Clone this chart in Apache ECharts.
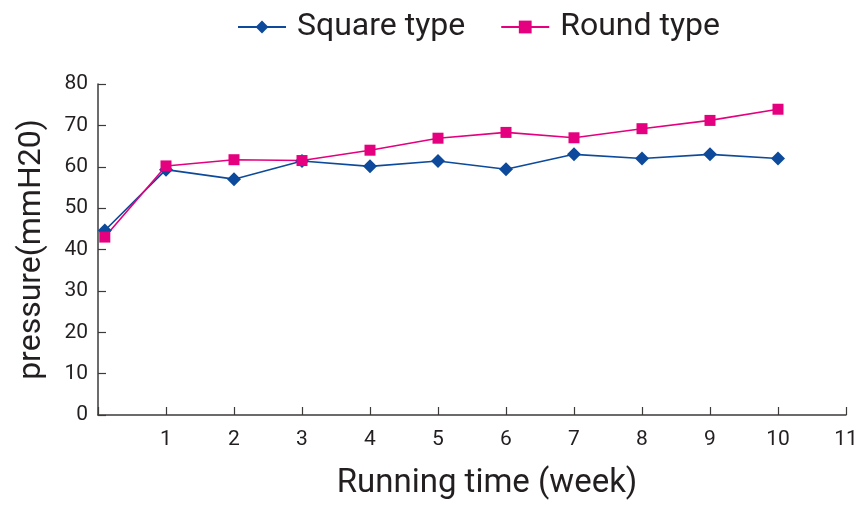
<!DOCTYPE html>
<html>
<head>
<meta charset="utf-8">
<script src="https://cdn.jsdelivr.net/npm/echarts@6/dist/echarts.min.js"></script>
<style>
  html, body { margin: 0; padding: 0; background: #fff; }
  #myChart { width: 865px; height: 505px; }
</style>
</head>
<body>
<div id="myChart"></div>
<script>
// weeks (first reading taken just after start)
var weeks = [0.1, 1, 2, 3, 4, 5, 6, 7, 8, 9, 10];
var squareType = [44.6, 59.3, 57.0, 61.4, 60.1, 61.4, 59.4, 63.0, 62.0, 63.0, 62.0];
var roundType = [43.0, 60.2, 61.7, 61.5, 64.0, 66.9, 68.3, 67.0, 69.2, 71.2, 73.9];
var yTicks = [0, 10, 20, 30, 40, 50, 60, 70, 80];

function pairs(xs, ys) {
  var out = [];
  for (var i = 0; i < xs.length; i++) {
    out.push([xs[i], ys[i]]);
  }
  return out;
}

var textColor = '#231f20';
var axisColor = '#3d3a3a';
var font = 'Roboto, "Noto Sans", sans-serif';

var chart = echarts.init(document.getElementById('myChart'));
var option = {
  animation: false,
  textStyle: { fontFamily: font },
  legend: {
    top: 6,
    left: 232,
    itemWidth: 48,
    itemHeight: 16,
    itemGap: 35,
    textStyle: { fontSize: 32, color: textColor, fontFamily: font, padding: [0, 0, 0, 6] },
    data: ['Square type', 'Round type']
  },
  grid: {
    left: 98,
    right: 19,
    top: 84,
    bottom: 89
  },
  xAxis: {
    type: 'value',
    min: 0,
    max: 11,
    interval: 1,
    name: 'Running time (week)',
    nameLocation: 'middle',
    nameGap: 52,
    nameTextStyle: { fontSize: 33, color: textColor, padding: [0, 0, 0, 30] },
    axisLine: { show: true, lineStyle: { color: axisColor, width: 1.5 } },
    axisTick: { show: true, inside: true, length: 8, lineStyle: { color: axisColor, width: 1.2 } },
    splitLine: { show: false },
    axisLabel: {
      fontSize: 21,
      color: textColor,
      margin: 14,
      formatter: function (v) { return v === 0 ? '' : String(v); }
    }
  },
  yAxis: {
    type: 'value',
    min: yTicks[0],
    max: yTicks[yTicks.length - 1],
    interval: 10,
    name: 'pressure(mmH20)',
    nameLocation: 'middle',
    nameGap: 50,
    nameTextStyle: { fontSize: 32, color: textColor },
    axisLine: { show: true, lineStyle: { color: axisColor, width: 1.5 } },
    axisTick: { show: true, inside: true, length: 8, lineStyle: { color: axisColor, width: 1.2 } },
    splitLine: { show: false },
    axisLabel: { fontSize: 21, color: textColor, margin: 10 }
  },
  series: [
    {
      name: 'Square type',
      type: 'line',
      data: pairs(weeks, squareType),
      symbol: 'diamond',
      symbolSize: 14,
      lineStyle: { color: '#0d4a9b', width: 1.6 },
      itemStyle: { color: '#0d4a9b' }
    },
    {
      name: 'Round type',
      type: 'line',
      data: pairs(weeks, roundType),
      symbol: 'rect',
      symbolSize: 11,
      lineStyle: { color: '#e4007f', width: 1.6 },
      itemStyle: { color: '#e4007f' }
    }
  ]
};
chart.setOption(option);
</script>
</body>
</html>
